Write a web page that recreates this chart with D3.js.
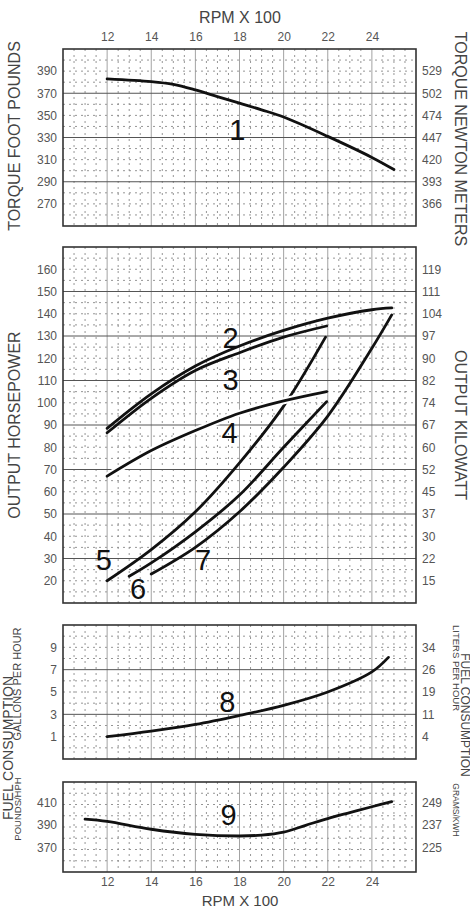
<!DOCTYPE html>
<html>
<head>
<meta charset="utf-8">
<script src="https://cdn.jsdelivr.net/npm/d3@7"></script>
<style>
  body { margin: 0; background: #fff; }
  svg { font-family: "Liberation Sans", Arial, sans-serif; }
  .tick text { fill: #555; font-size: 12px; }
  .title { fill: #444; }
  .curve { fill: none; stroke: #111; stroke-width: 2.8; stroke-linecap: round; }
  .halo { fill: none; stroke: #fff; stroke-width: 7; }
  .curve-label { fill: #111; font-size: 29px; text-anchor: middle; }
  .minor { stroke: #8a8a8a; stroke-width: 0.9; stroke-dasharray: 2,4; }
  .major-h { stroke: #555; stroke-width: 1; }
  .major-v { stroke: #999; stroke-width: 0.9; }
  .frame { fill: none; stroke: #333; stroke-width: 1.6; }
</style>
</head>
<body>
<div id="chart"></div>
<script>
// ---- data ----
const rpmTicks = [12, 14, 16, 18, 20, 22, 24];

const torqueTicks = [390, 370, 350, 330, 310, 290, 270];
const torqueNmLabels = ["529", "502", "474", "447", "420", "393", "366"];

const hpTicks = [160, 150, 140, 130, 120, 110, 100, 90, 80, 70, 60, 50, 40, 30, 20];
const kwLabels = ["119", "111", "104", "97", "90", "82", "74", "67", "60", "52", "45", "37", "30", "22", "15"];

const gphTicks = [9, 7, 5, 3, 1];
const lphLabels = ["34", "26", "19", "11", "4"];

const bsfcTicks = [410, 390, 370];
const gkwhLabels = ["249", "237", "225"];

// curves: [rpm x 100, value]
const curve1 = [[12, 383], [14, 380.5], [15, 378], [16, 373], [17, 367], [18, 361], [19, 355], [20, 348.5], [22, 331], [24, 312], [25, 301]];
const curve2 = [[12, 88.5], [14, 104], [16, 116.5], [18, 125.5], [20, 132.5], [22, 138], [24, 141.8], [24.9, 142.6]];
const curve3 = [[12, 86.5], [14, 102], [16, 114.5], [18, 122.5], [20, 129.5], [21.95, 134.5]];
const curve4 = [[12, 67], [14, 78.5], [16, 87.5], [18, 95.3], [20, 100.8], [21.95, 105]];
const curve5 = [[12, 20], [14, 34], [16, 51], [18, 73], [20, 98.5], [21.9, 129.5]];
const curve6 = [[13, 22], [14, 28], [16, 42], [18, 58.5], [20, 80], [21.95, 100.5]];
const curve7 = [[14, 23], [16, 35], [18, 51], [20, 71], [22, 94], [24, 124.5], [24.9, 139.5]];
const curve8 = [[12, 1], [14, 1.5], [16, 2.1], [18, 2.9], [20, 3.8], [22, 5.0], [24, 6.8], [24.75, 8.1]];
const curve9 = [[11, 395], [12, 393], [14, 386], [16, 381.5], [18, 380], [19, 380.8], [20, 383.5], [21, 389.5], [22, 395.5], [23, 400.8], [24, 406], [24.9, 410.5]];

// curve number labels: [text, rpm, value]
const labels1 = [["1", 17.9, 337]];
const labels2 = [["2", 17.6, 129.5], ["3", 17.6, 110.2], ["4", 17.55, 86.4],
                 ["5", 11.85, 29.3], ["6", 13.4, 16.7], ["7", 16.35, 29.3]];
const labels8 = [["8", 17.45, 4.1]];
const labels9 = [["9", 17.5, 398.7]];

// ---- layout ----
const W = 470, H = 909;
const svg = d3.select("#chart").append("svg").attr("width", W).attr("height", H);

const x = d3.scaleLinear().domain([10, 26]).range([63, 416]);

const line = (y) => d3.line()
  .x(d => x(d[0]))
  .y(d => y(d[1]))
  .curve(d3.curveCatmullRom.alpha(0.5));

/* Draws one panel: grid, frame, left/right labels, curves */
function drawPanel(p) {
  const y = d3.scaleLinear().domain(p.domain).range([p.bottom, p.top]);
  const g = svg.append("g");

  // minor dotted grid
  const vMinor = d3.range(10.5, 26, 0.5).filter(v => v % 2 !== 0);
  g.selectAll(".mv").data(vMinor).enter().append("line")
    .attr("class", "minor")
    .attr("x1", d => x(d)).attr("x2", d => x(d))
    .attr("y1", p.top).attr("y2", p.bottom);

  const hAll = d3.range(p.domain[0] + p.minor, p.domain[1], p.minor);
  const isMajor = v => Math.abs(((v - p.base) / (4 * p.minor)) % 1) < 1e-6;
  g.selectAll(".mh").data(hAll.filter(v => !isMajor(v))).enter().append("line")
    .attr("class", "minor")
    .attr("x1", x.range()[0]).attr("x2", x.range()[1])
    .attr("y1", d => y(d)).attr("y2", d => y(d));

  // major lines
  g.selectAll(".Mv").data(d3.range(12, 26, 2)).enter().append("line")
    .attr("class", "major-v")
    .attr("x1", d => x(d)).attr("x2", d => x(d))
    .attr("y1", p.top).attr("y2", p.bottom);
  g.selectAll(".Mh").data(hAll.filter(isMajor)).enter().append("line")
    .attr("class", "major-h")
    .attr("x1", x.range()[0]).attr("x2", x.range()[1])
    .attr("y1", d => y(d)).attr("y2", d => y(d));

  // frame
  g.append("rect").attr("class", "frame")
    .attr("x", x.range()[0]).attr("y", p.top)
    .attr("width", x.range()[1] - x.range()[0])
    .attr("height", p.bottom - p.top);

  // left and right tick labels
  g.append("g").attr("transform", `translate(${x.range()[0]},0)`)
    .call(d3.axisLeft(y).tickValues(p.ticks).tickSize(0).tickPadding(6))
    .call(a => a.select(".domain").remove());
  g.append("g").attr("transform", `translate(${x.range()[1]},0)`)
    .call(d3.axisRight(y).tickValues(p.ticks).tickSize(0).tickPadding(6)
      .tickFormat((d, i) => p.right[i]))
    .call(a => a.select(".domain").remove());

  // curves (a white halo breaks the lines that pass underneath)
  p.curves.forEach(c => {
    if (c.halo)
      g.append("path").attr("class", "halo").attr("d", line(y)(c.pts));
    g.append("path").attr("class", "curve").attr("d", line(y)(c.pts));
  });

  g.selectAll(".curve-label").data(p.labels).enter().append("text")
    .attr("class", "curve-label")
    .attr("x", d => x(d[1]))
    .attr("y", d => y(d[2]))
    .attr("dy", "0.36em")
    .text(d => d[0]);

  return g;
}

drawPanel({ top: 49, bottom: 226, domain: [250, 410], minor: 10, base: 290,
  ticks: torqueTicks, right: torqueNmLabels, curves: [{ pts: curve1 }], labels: labels1 });
drawPanel({ top: 247, bottom: 603, domain: [10, 170], minor: 5, base: 10,
  ticks: hpTicks, right: kwLabels,
  curves: [{ pts: curve2 }, { pts: curve3 }, { pts: curve5 }, { pts: curve6 }, { pts: curve7 },
           { pts: curve4, halo: true }],
  labels: labels2 });
drawPanel({ top: 625, bottom: 759, domain: [-1, 11], minor: 1, base: -1,
  ticks: gphTicks, right: lphLabels, curves: [{ pts: curve8 }], labels: labels8 });
drawPanel({ top: 782, bottom: 872, domain: [348, 428], minor: 10, base: 350,
  ticks: bsfcTicks, right: gkwhLabels, curves: [{ pts: curve9 }], labels: labels9 });

// rpm axes top and bottom
svg.append("g").attr("transform", "translate(0,49)")
  .call(d3.axisTop(x).tickValues(rpmTicks).tickSize(0).tickPadding(8))
  .call(a => a.select(".domain").remove());
svg.append("g").attr("transform", "translate(0,872)")
  .call(d3.axisBottom(x).tickValues(rpmTicks).tickSize(0).tickPadding(5))
  .call(a => a.select(".domain").remove());

// titles
function title(txt, tx, ty, rot, size) {
  svg.append("text")
    .attr("class", "title")
    .attr("transform", `translate(${tx},${ty}) rotate(${rot})`)
    .attr("text-anchor", "middle")
    .style("font-size", size + "px")
    .text(txt);
}
title("RPM X 100", 240, 23, 0, 16);
title("RPM X 100", 240, 906, 0, 15);
title("TORQUE FOOT POUNDS", 20, 136, -90, 16);
title("TORQUE NEWTON METERS", 455, 139, 90, 16);
title("OUTPUT HORSEPOWER", 20, 425, -90, 16);
title("OUTPUT KILOWATT", 455, 425, 90, 16);
title("FUEL CONSUMPTION", 12.5, 748, -90, 14);
title("GALLONS PER HOUR", 20.5, 684, -90, 11);
title("POUNDS/HPH", 20.5, 809, -90, 9.5);
title("LITERS PER HOUR", 452.5, 668, 90, 9.5);
title("GRAMS/KWH", 453, 810, 90, 8.5);
title("FUEL CONSUMPTION", 460.5, 715, 90, 12);
</script>
</body>
</html>
